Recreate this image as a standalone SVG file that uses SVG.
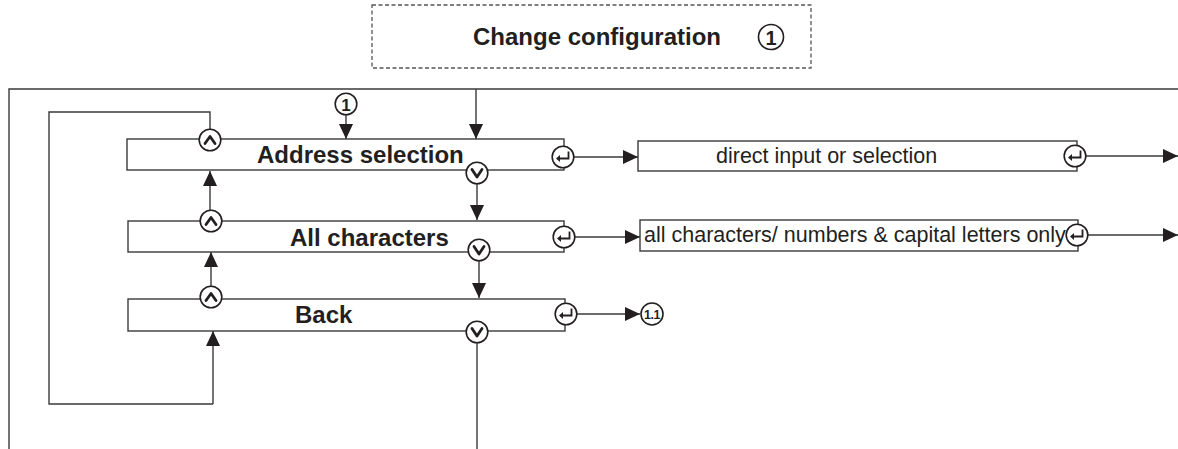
<svg xmlns="http://www.w3.org/2000/svg" xmlns:xlink="http://www.w3.org/1999/xlink" width="1178" height="449" viewBox="0 0 1178 449">
<style>
  .box { fill: #ffffff; stroke: #3a3a3a; stroke-width: 1.4; }
  .ln { fill: none; stroke: #3a3a3a; stroke-width: 1.4; }
  .arr { fill: none; stroke: #3a3a3a; stroke-width: 1.4; marker-end: url(#ah); }
  .dash { fill: none; stroke: #555555; stroke-width: 1.3; stroke-dasharray: 4 2.5; }
  .lbl { font-family: "Liberation Sans", Arial, sans-serif; font-weight: bold; font-size: 24px; fill: #231f20; }
  .txt { font-family: "Liberation Sans", Arial, sans-serif; font-size: 21.5px; fill: #231f20; }
  .num { font-family: "Liberation Sans", Arial, sans-serif; font-weight: bold; fill: #231f20; text-anchor: middle; }
  .cir { fill: #ffffff; stroke: #231f20; stroke-width: 1.6; }
  .sym { fill: none; stroke: #231f20; stroke-width: 2.8; stroke-linecap: round; stroke-linejoin: round; }
  .sym2 { fill: none; stroke: #231f20; stroke-width: 1.8; }
</style>
<defs>
  <marker id="ah" viewBox="0 0 15 14" refX="15" refY="7" markerWidth="15" markerHeight="14" markerUnits="userSpaceOnUse" orient="auto">
    <path d="M0,0 L15,7 L0,14 z" fill="#231f20"/>
  </marker>
  <g id="up">
    <circle class="cir" r="10.8"/>
    <path class="sym" d="M-5,3.5 L0,-3.5 L5,3.5"/>
  </g>
  <g id="down">
    <circle class="cir" r="10.8"/>
    <path class="sym" d="M-5,-3.5 L0,4 L5,-3.5"/>
  </g>
  <g id="enter">
    <circle class="cir" r="10.8"/>
    <path class="sym2" d="M5.5,-5.5 V1.5 H-4"/>
    <path d="M-7,1.5 L-3,-2 L-3,5 z" fill="#231f20"/>
  </g>
</defs>

<g id="header">
  <rect class="dash" x="372" y="5" width="439" height="63"/>
  <text class="lbl" x="473" y="45">Change configuration</text>
  <circle class="cir" cx="771" cy="37" r="12.5"/>
  <text class="num" x="771" y="44.5" font-size="20">1</text>
</g>

<g id="connectors">
  <path class="ln" d="M1178,89 H9 V449"/>
  <path class="arr" d="M476,89 V139"/>
  <path class="arr" d="M346,115 V139"/>
  <path class="ln" d="M210,129.2 V112 H49 V404 H213"/>
  <path class="arr" d="M213,404 V331"/>
  <path class="arr" d="M210,210.2 V171"/>
  <path class="arr" d="M211,286.2 V252"/>
  <path class="arr" d="M477,183.8 V220"/>
  <path class="arr" d="M479,260.8 V298"/>
  <path class="ln" d="M477,342.8 V449"/>
  <path class="arr" d="M573.8,157 H638"/>
  <path class="arr" d="M574.8,237 H640"/>
  <path class="arr" d="M576.8,314 H640"/>
  <path class="arr" d="M1085.8,156 H1178"/>
  <path class="arr" d="M1087.8,235 H1178"/>
</g>

<g id="marker1">
  <circle class="cir" cx="346" cy="104" r="10.8"/>
  <text class="num" x="346" y="110.5" font-size="17">1</text>
</g>

<g id="address-selection">
  <rect class="box" x="127" y="139" width="437" height="31"/>
  <text class="lbl" x="257" y="163">Address selection</text>
  <use xlink:href="#up" x="210" y="140"/>
  <use xlink:href="#down" x="477" y="173"/>
  <use xlink:href="#enter" x="563" y="157"/>
</g>

<g id="all-characters">
  <rect class="box" x="128" y="221" width="436" height="31"/>
  <text class="lbl" x="290" y="246">All characters</text>
  <use xlink:href="#up" x="211" y="221"/>
  <use xlink:href="#down" x="479" y="250"/>
  <use xlink:href="#enter" x="564" y="237"/>
</g>

<g id="back">
  <rect class="box" x="128" y="299" width="437" height="32"/>
  <text class="lbl" x="295" y="323">Back</text>
  <use xlink:href="#up" x="211" y="297"/>
  <use xlink:href="#down" x="477" y="332"/>
  <use xlink:href="#enter" x="566" y="314"/>
</g>

<g id="direct-input">
  <rect class="box" x="638" y="141" width="439" height="30"/>
  <text class="txt" x="716" y="163">direct input or selection</text>
  <use xlink:href="#enter" x="1075" y="156"/>
</g>

<g id="char-set">
  <rect class="box" x="640" y="220" width="438" height="31"/>
  <text class="txt" x="644" y="242">all characters/ numbers &amp; capital letters only</text>
  <use xlink:href="#enter" x="1077" y="235"/>
</g>

<g id="marker11">
  <circle class="cir" cx="652" cy="314" r="11"/>
  <text class="num" x="652" y="318.5" font-size="12.5" letter-spacing="-0.5">1.1</text>
</g>
</svg>
